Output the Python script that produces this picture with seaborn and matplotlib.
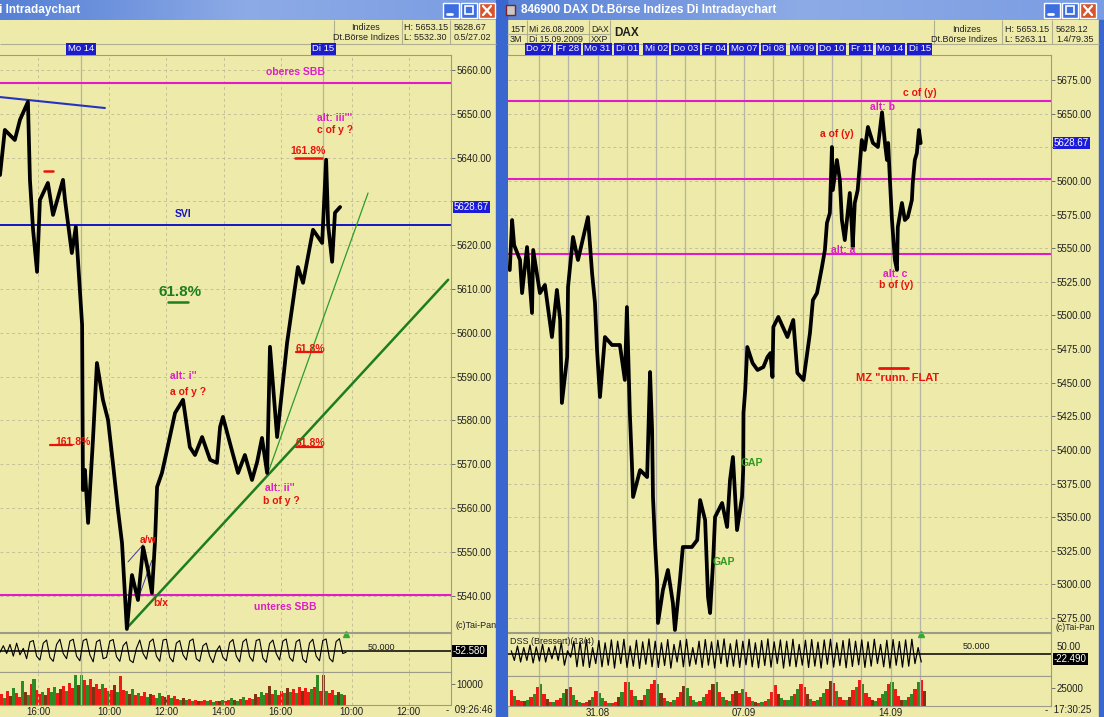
import numpy as np
import matplotlib
matplotlib.use("Agg")
import matplotlib.pyplot as plt
import seaborn as sns
from matplotlib.patches import Rectangle
from matplotlib.colors import LinearSegmentedColormap
from matplotlib.ticker import FuncFormatter

# ---------------- linkes Fenster: Intraday (Fr 11 / Mo 14 / Di 15), x = Handelsstunden ab Mo 9:00
left_t = [-2.84, -2.67, -2.32, -2.14, -1.86, -1.79, -1.68, -1.54, -1.44, -1.16, -0.98, -0.63, -0.56, -0.32, -0.18,
          0.04, 0.07, 0.14, 0.25, 0.42, 0.56, 0.77, 0.95, 1.12, 1.30, 1.44, 1.61, 1.79, 2.00, 2.18, 2.35, 2.49,
          2.60, 2.67, 2.84, 2.98, 3.30, 3.58, 3.82, 4.00, 4.25, 4.53, 4.77, 4.88, 4.98, 5.30, 5.51, 5.75, 6.00,
          6.18, 6.35, 6.53, 6.63, 6.88, 7.23, 7.61, 7.79, 8.14, 8.46, 8.60, 8.67, 8.81, 8.91, 9.09]
left_price = [5636.0, 5646.3, 5644.0, 5648.6, 5652.7, 5634.9, 5623.5, 5613.9, 5630.3, 5634.2, 5626.9, 5634.9,
              5630.3, 5618.2, 5624.2, 5601.8, 5564.1, 5568.7, 5556.6, 5575.5, 5593.1, 5584.7, 5580.1, 5570.3,
              5559.5, 5552.0, 5532.4, 5544.7, 5539.0, 5551.1, 5545.9, 5540.6, 5552.7, 5564.8, 5568.0, 5572.1,
              5581.7, 5584.7, 5573.9, 5572.1, 5576.2, 5571.0, 5570.3, 5578.5, 5580.8, 5573.0, 5568.0, 5572.1,
              5566.4, 5570.5, 5576.0, 5568.0, 5596.8, 5576.2, 5597.7, 5615.0, 5611.4, 5623.5, 5620.5, 5639.5,
              5624.6, 5616.2, 5627.4, 5628.7]
left_osc = [45, 70, 40, 75, 30, 80, 35, 60,
            20, 85, 90, 30, 15, 80, 92, 25,
            10, 75, 95, 40, 20, 88, 95, 30,
            12, 90, 96, 35, 8, 85, 93, 20,
            25, 88, 94, 28, 10, 70, 85, 15,
            5, 60, 92, 40, 18, 85, 96, 30,
            10, 92, 95, 25, 8, 80, 90, 35,
            15, 88, 96, 20, 10, 70, 80, 30,
            5, 50, 70, 25, 12, 82, 94, 30,
            8, 85, 96, 28, 10, 90, 95, 22,
            6, 78, 92, 40, 15, 88, 96, 25,
            10, 85, 94, 18, 5, 80, 95, 30,
            12, 90, 96, 22, 8, 86, 97, 40,
            45]
left_vol = [5200, 3100, 6800, 4200, 8300, 5600, 3900, 11200, 6100, 4700, 9800, 12600, 7200, 5300, 6400, 4800,
            7900, 6200, 8800, 5900, 7400, 9100, 6600, 10400, 8200, 14100, 9300,
            14300, 11800, 9600, 12400, 8700, 10200, 7600, 9900, 8100, 6800, 7200, 9400, 6100, 13900, 7300,
            6500, 5200, 7800, 4900, 5600, 4300, 6100, 3800, 5200, 4600, 3400, 5900, 4100, 3600, 4800, 3200, 4400, 3000,
            2600, 3300, 2200, 2900, 1900, 2500, 2100, 1700, 2400, 1800, 2300, 1500, 2000, 1700, 2600, 1900, 2200,
            3100, 2400, 1800, 2700, 3600, 2500, 3100, 2800,
            5100, 3800, 6400, 4600, 5800, 9200, 5300, 7100, 4900, 6600, 5800, 8200, 6200, 7400, 5600, 8800, 6700,
            7900, 6300, 7600, 8400, 14200, 6900,
            14500, 6800, 5600, 7200, 4800, 6300, 5400, 4900]
left_vol_col = "rgrbgrrgbgrgrrgbrggrbrgrrgbgrgrbrrg"
left_ticks = [-1.5, 1, 3, 5, 7, 9.5, 11.5]
left_ticklabels = ["16:00", "10:00", "12:00", "14:00", "16:00", "10:00", "12:00"]
left_daylines = [0, 8.5]
left_hourlines = [-1.5, 1, 3, 5, 7, 9.5, 11.5]
left_days = [(0, "Mo 14"), (8.5, "Di 15")]
left_sbb = [5657.0, 5540.2]
left_svi = 5624.6
left_blue_line = ([-2.84, 0.84], [5653.8, 5651.3])
left_trend_big = ([1.61, 12.88], [5532.6, 5612.1])
left_trend_small = ([6.56, 10.07], [5568.0, 5631.9])
left_zigzag = [([1.65, 2.18], [5547.7, 5551.6]), ([1.99, 2.49], [5539.0, 5548.1])]

# ---------------- rechtes Fenster: 15 Tage, x = Handelstage ab Mi 26.08
right_d = [0.0, 0.08, 0.15, 0.35, 0.42, 0.59, 0.76, 0.80, 1.03, 1.20, 1.44, 1.61, 1.72, 1.78, 1.96, 1.99, 2.16,
           2.33, 2.67, 2.81, 2.91, 2.98, 3.08, 3.25, 3.49, 3.76, 3.93, 4.00, 4.10, 4.17, 4.21, 4.45, 4.69, 4.79,
           4.86, 4.89, 4.96, 5.03, 5.06, 5.23, 5.40, 5.57, 5.64, 5.81, 5.91, 6.22, 6.40, 6.50, 6.67, 6.77, 6.84,
           6.94, 7.01, 7.25, 7.42, 7.52, 7.62, 7.76, 7.93, 7.97, 7.98, 8.04, 8.11, 8.29, 8.46, 8.66, 8.80, 8.90,
           8.97, 9.00, 9.17, 9.48, 9.68, 9.82, 10.03, 10.25, 10.35, 10.49, 10.66, 10.76, 10.83, 10.93, 11.00,
           11.03, 11.17, 11.27, 11.34, 11.44, 11.61, 11.68, 11.71, 11.78, 11.88, 12.02, 12.12, 12.23, 12.40,
           12.57, 12.71, 12.81, 12.88, 12.92, 12.98, 13.05, 13.15, 13.22, 13.25, 13.39, 13.49, 13.59, 13.73,
           13.76, 13.83, 13.90, 13.97, 14.03]
right_price = [5533.7, 5570.9, 5552.3, 5541.2, 5516.6, 5550.8, 5501.8, 5548.6, 5516.6, 5522.6, 5483.9, 5518.9,
               5496.6, 5434.9, 5469.1, 5521.1, 5558.3, 5541.2, 5573.1, 5531.5, 5509.2, 5474.3, 5439.3, 5483.9,
               5478.0, 5478.0, 5452.0, 5506.2, 5427.4, 5390.2, 5365.0, 5385.0, 5379.8, 5457.9, 5414.8, 5365.0,
               5330.8, 5303.3, 5271.3, 5295.8, 5310.7, 5286.2, 5266.1, 5303.3, 5327.8, 5327.8, 5333.0, 5362.7,
               5347.9, 5290.6, 5278.7, 5315.9, 5350.1, 5360.5, 5342.7, 5377.6, 5394.7, 5340.4, 5365.0, 5385.0,
               5427.4, 5444.5, 5476.5, 5464.6, 5459.4, 5461.6, 5469.1, 5472.0, 5454.2, 5491.4, 5498.8, 5483.9,
               5496.6, 5457.2, 5452.0, 5486.9, 5511.4, 5516.6, 5536.0, 5548.6, 5568.7, 5576.1, 5625.2, 5593.2,
               5615.5, 5600.7, 5570.9, 5556.0, 5591.0, 5565.7, 5550.8, 5583.6, 5593.2, 5630.4, 5623.0, 5640.1,
               5628.2, 5625.2, 5651.0, 5628.2, 5615.5, 5628.2, 5600.7, 5570.9, 5541.2, 5533.7, 5565.7, 5583.6,
               5570.9, 5573.1, 5585.8, 5598.4, 5615.5, 5620.7, 5637.8, 5628.1]
right_osc = [60, 30, 75, 25, 70, 30, 78, 22, 72, 28, 80, 25, 70, 35, 75, 30,
             85, 15, 60, 40, 90, 10, 88, 12, 95, 8, 70, 20, 92, 10, 85, 15,
             94, 6, 90, 20, 96, 8, 75, 12, 93, 5, 88, 18, 97, 10, 90, 8,
             85, 14, 95, 6, 80, 25, 92, 10, 96, 12, 70, 18, 90, 8, 95, 15,
             88, 6, 93, 20, 97, 10, 82, 12, 94, 8, 90, 16, 96, 10, 85, 7,
             92, 14, 97, 9, 88, 20, 94, 6, 90, 12, 96, 10, 80, 15, 93, 8,
             95, 12, 87, 6, 94, 18, 96, 9, 85, 14, 92, 7, 97, 11, 90, 16,
             94, 8, 88, 12, 96, 20, 80, 10, 93, 6, 95, 15, 89, 9, 94, 12,
             96, 20, 70, 25]
right_vol = [22000, 14000, 9000, 7000, 6500, 8000, 12000, 16000, 27000,
             30000, 16000, 10000, 6000, 5500, 9000, 11000, 18000, 24000,
             26000, 15000, 8000, 5000, 4500, 6000, 9000, 13000, 21000,
             18000, 11000, 7000, 4000, 3500, 5500, 12000, 20000, 33000,
             34000, 22000, 14000, 9000, 8000, 15000, 24000, 30000, 36000,
             31000, 18000, 11000, 7000, 6000, 8000, 13000, 19000, 28000,
             25000, 14000, 9000, 6000, 7000, 12000, 16000, 22000, 30000,
             33000, 19000, 12000, 8000, 7500, 16000, 21000, 18000, 24000,
             20000, 12000, 7000, 5000, 4000, 5000, 7000, 10000, 19000,
             29000, 17000, 11000, 8000, 9000, 14000, 17000, 23000, 31000,
             27000, 16000, 10000, 7000, 8000, 12000, 18000, 24000, 35000,
             32000, 21000, 13000, 9000, 8500, 13000, 22000, 27000, 36000,
             30000, 18000, 12000, 8000, 7000, 11000, 16000, 21000, 31000,
             34000, 24000, 14000, 9000, 8000, 12000, 17000, 23000, 33000,
             36000, 21000]
right_vol_col = "rgrrbgrgrgrbrgrrgbrgrgrrbgrgg"
right_days = ["Do 27", "Fr 28", "Mo 31", "Di 01", "Mi 02", "Do 03", "Fr 04", "Mo 07", "Di 08", "Mi 09",
              "Do 10", "Fr 11", "Mo 14", "Di 15"]
right_ticks = [3, 8, 13]
right_ticklabels = ["31.08", "07.09", "14.09"]
right_sbb = [5659.6, 5601.4, 5545.6]
right_flat_line = ([12.6, 13.59], [5460.9, 5460.9])

sns.set_theme(style="white")
plt.rcParams['font.family'] = ['Liberation Sans', 'DejaVu Sans']

W, H = 1104, 717
BG = "#EEEBAA"
GRID = "#C4C09A"
DAYLINE = "#B5B3A6"
SPINE = "#9C9A88"
MAG = "#E01CC8"
RED = "#E8140C"
GREEN = "#1E7D1E"
BLUE = "#1414C8"
VOLC = {"r": "#F01A14", "g": "#2E8A22", "b": "#7E3412"}

fig = plt.figure(figsize=(W / 100, H / 100), dpi=100, facecolor=BG)


def px_axes(x0, y0, x1, y1):
    ax = fig.add_axes([x0 / W, 1 - y1 / H, (x1 - x0) / W, (y1 - y0) / H])
    ax.set_facecolor(BG)
    for s in ax.spines.values():
        s.set_color(SPINE)
        s.set_linewidth(0.8)
    ax.set_xticks([])
    ax.set_yticks([])
    return ax


# ---------------- Fensterrahmen
chrome = fig.add_axes([0, 0, 1, 1])
chrome.axis("off")
title_cmap = LinearSegmentedColormap.from_list("xp", ["#5680D6", "#8DABE6", "#7A9CE2"])
grad = np.linspace(0, 1, 200)[None, :]
chrome.imshow(grad, extent=(0, 497, 20, 0), cmap=title_cmap, aspect="auto")
chrome.imshow(grad, extent=(500, 1104, 20, 0), cmap=title_cmap, aspect="auto")
chrome.add_patch(Rectangle((496, 0), 11, H, color="#3A66D0"))
chrome.add_patch(Rectangle((1099, 20), 5, H, color="#3A66D0"))
chrome.set_xlim(0, W)
chrome.set_ylim(H, 0)


def buttons(x0):
    for i in range(3):
        bx = x0 + i * 18
        fc = "#D9542C" if i == 2 else "#3D6FE0"
        chrome.add_patch(Rectangle((bx, 3), 16, 15, facecolor=fc, edgecolor="white", lw=1))
        if i == 0:
            chrome.plot([bx + 4, bx + 9], [14, 14], color="white", lw=2)
        elif i == 1:
            chrome.add_patch(Rectangle((bx + 4, 6), 8, 8, facecolor="none", edgecolor="white", lw=1.2))
        else:
            chrome.plot([bx + 4, bx + 12], [6, 15], color="white", lw=1.6)
            chrome.plot([bx + 4, bx + 12], [15, 6], color="white", lw=1.6)


buttons(443)
buttons(1044)
chrome.text(-1, 10, "i Intradaychart", color="white", fontsize=8.5, fontweight="bold", va="center")
chrome.add_patch(Rectangle((506, 5), 9, 10, facecolor="#C8C8C8", edgecolor="#802020", lw=1))
chrome.text(521, 10, "846900 DAX Dt.Börse Indizes Di Intradaychart", color="white", fontsize=8.5,
            fontweight="bold", va="center")

# Kopfzeilen
hd = dict(fontsize=6.5, color="#202020", va="center")
chrome.vlines([334, 402, 450], 20, 44, color="#B0AE90", lw=0.8)
chrome.hlines(44, 0, 496, color="#B0AE90", lw=0.8)
chrome.text(380, 27, "Indizes", ha="right", **hd)
chrome.text(399, 38, "Dt.Börse Indizes", ha="right", **hd)
chrome.text(404, 27, "H: 5653.15", **hd)
chrome.text(404, 38, "L: 5532.30", **hd)
chrome.text(454, 27, "5628.67", **hd)
chrome.text(454, 38, "0.5/27.02", **hd)

chrome.vlines([527, 589, 610, 934, 1002, 1052], 20, 44, color="#B0AE90", lw=0.8)
chrome.hlines(34, 507, 610, color="#B0AE90", lw=0.8)
chrome.hlines(44, 507, 1099, color="#B0AE90", lw=0.8)
chrome.text(510, 29, "15T", **hd)
chrome.text(510, 39, "3M", **hd)
chrome.text(529, 29, "Mi 26.08.2009", fontsize=6.2, color="#202020", va="center")
chrome.text(529, 39, "Di 15.09.2009", fontsize=6.2, color="#202020", va="center")
chrome.text(591, 29, "DAX", fontsize=6.2, color="#202020", va="center")
chrome.text(591, 39, "XXP", fontsize=6.2, color="#202020", va="center")
chrome.text(614, 33, "DAX", fontsize=8.5, fontweight="bold", color="#202020", va="center")
chrome.text(981, 29, "Indizes", ha="right", **hd)
chrome.text(997, 39, "Dt.Börse Indizes", ha="right", **hd)
chrome.text(1005, 29, "H: 5653.15", **hd)
chrome.text(1005, 39, "L: 5263.11", **hd)
chrome.text(1056, 29, "5628.12", **hd)
chrome.text(1056, 39, "1.4/79.35", **hd)

box_blue = dict(facecolor="#1C1CD8", edgecolor="none", pad=0.8)
box_black = dict(facecolor="black", edgecolor="none", pad=0.8)
chrome.text(454, 207, "5628.67", fontsize=7, color="white", va="center", bbox=box_blue)
chrome.text(1054, 143, "5628.67", fontsize=7, color="white", va="center", bbox=box_blue)
chrome.text(455, 626, "(c)Tai-Pan", fontsize=6.5, color="#202020", va="center")
chrome.text(1055, 628, "(c)Tai-Pan", fontsize=6.2, color="#202020", va="center")
chrome.text(453, 651, "-52.580", fontsize=7, color="white", va="center", bbox=box_black)
chrome.text(1054, 659, "-22.490", fontsize=7, color="white", va="center", bbox=box_black)
chrome.text(1057, 647, "50.00", fontsize=7, color="#202020", va="center")
chrome.text(446, 710, "-  09:26:46", fontsize=7, color="#202020", va="center")
chrome.text(1045, 710, "-  17:30:25", fontsize=7, color="#202020", va="center")


def price_axis(ax, ticks, hidden):
    ax.spines["left"].set_visible(False)
    ax.yaxis.tick_right()
    ax.set_yticks(ticks)
    ax.yaxis.set_major_formatter(FuncFormatter(lambda v, p: "" if abs(v - hidden) < 0.1 else f"{v:.2f}"))
    ax.tick_params(axis="y", right=True, length=3, width=0.7, color="#707070", labelsize=7, pad=1,
                   labelcolor="#202020")
    ax.grid(axis="y", ls=(0, (3, 3)), color=GRID, lw=0.7)


def day_box(ax, x, lbl):
    ax.text(x, 1.0104, lbl, transform=ax.get_xaxis_transform(), fontsize=6.8, color="white",
            ha="center", va="center", bbox=dict(facecolor="#1C1CC8", edgecolor="none", pad=1.0), clip_on=False)


# ---------------- linkes Chart
L_XLIM = (-2.84, 12.98)
axL = px_axes(0, 55, 451, 632)
axL.set_xlim(*L_XLIM)
axL.set_ylim(5531.7, 5663.4)
price_axis(axL, list(range(5540, 5661, 10)), 5630)
for x in left_daylines:
    axL.axvline(x, color=DAYLINE, lw=0.9)
for x in left_hourlines:
    axL.axvline(x, color=GRID, lw=0.7, ls=(0, (3, 3)))
for x, lbl in left_days:
    day_box(axL, x, lbl)

for y in left_sbb:
    axL.axhline(y, color=MAG, lw=1.5)
axL.axhline(left_svi, color=BLUE, lw=1.4)
axL.plot(*left_blue_line, color="#2434C0", lw=1.5)
axL.plot(*left_trend_big, color=GREEN, lw=1.8)
axL.plot(*left_trend_small, color="#2E9A2E", lw=0.9)
for seg in left_zigzag:
    axL.plot(*seg, color="#3A3AA0", lw=0.7)
sns.lineplot(x=left_t, y=left_price, ax=axL, color="black", lw=2.7, sort=False, estimator=None)
axL.set_xlabel("")
axL.set_ylabel("")

ann = dict(fontsize=7.5, fontweight="bold", ha="center", va="center")
axL.text(7.51, 5659.6, "oberes SBB", color=MAG, **ann)
axL.text(8.91, 5649.0, "alt: iii'''", color=MAG, **ann)
axL.text(8.91, 5646.3, "c of y ?", color=RED, **ann)
axL.text(7.96, 5641.6, "161.8%", color=RED, **ann)
axL.plot([7.51, 8.46], [5640.0, 5640.0], color=RED, lw=1.8)
axL.plot([-1.30, -0.98], [5636.9, 5636.9], color=RED, lw=1.8)
axL.text(3.58, 5627.2, "SVI", color=BLUE, **ann)
axL.text(3.47, 5609.3, "61.8%", color=GREEN, fontsize=11, fontweight="bold", ha="center", va="center")
axL.plot([3.05, 3.75], [5607.0, 5607.0], color=GREEN, lw=1.8)
axL.text(8.04, 5596.2, "61.8%", color=RED, **ann)
axL.plot([7.54, 8.46], [5595.6, 5595.6], color=RED, lw=1.6)
axL.text(3.58, 5590.1, "alt: i''", color=MAG, **ann)
axL.text(3.75, 5586.5, "a of y ?", color=RED, **ann)
axL.text(-0.28, 5575.0, "161.8%", color=RED, **ann)
axL.plot([-1.09, -0.30], [5574.4, 5574.4], color=RED, lw=1.6)
axL.text(8.04, 5574.8, "61.8%", color=RED, **ann)
axL.plot([7.54, 8.46], [5573.9, 5573.9], color=RED, lw=1.6)
axL.text(6.98, 5564.6, "alt: ii''", color=MAG, **ann)
axL.text(7.04, 5561.6, "b of y ?", color=RED, **ann)
axL.text(2.35, 5552.7, "a/w", color=RED, **ann)
axL.text(2.81, 5538.3, "b/x", color=RED, **ann)
axL.text(7.16, 5537.4, "unteres SBB", color=MAG, **ann)

# Oszillator links
axLo = px_axes(0, 633, 451, 672)
axLo.spines["left"].set_visible(False)
axLo.set_xlim(*L_XLIM)
axLo.set_ylim(-31, 119)
for x in left_daylines:
    axLo.axvline(x, color=DAYLINE, lw=0.9)
for x in left_hourlines:
    axLo.axvline(x, color=GRID, lw=0.7, ls=(0, (3, 3)))
axLo.axhline(50, color="black", lw=1.1)
sns.lineplot(x=np.linspace(left_t[0], 9.3, len(left_osc)), y=left_osc, ax=axLo, color="black", lw=0.8,
             sort=False, estimator=None)
axLo.plot([9.3], [117], marker="^", color="#36A836", ms=4, clip_on=False)
axLo.text(10.05, 62, "50.000", fontsize=6.5, color="#202020", va="center")
axLo.set_xlabel("")
axLo.set_ylabel("")

# Volumen links
axLv = px_axes(0, 672, 451, 705)
axLv.spines["left"].set_visible(False)
axLv.set_xlim(*L_XLIM)
axLv.set_ylim(0, 15714)
for x in left_daylines:
    axLv.axvline(x, color=DAYLINE, lw=0.9)
for x in left_hourlines:
    axLv.axvline(x, color=GRID, lw=0.7, ls=(0, (3, 3)))
lx = np.linspace(-2.8, 9.25, len(left_vol))
axLv.bar(lx, left_vol, width=0.106, color=[VOLC[left_vol_col[i % len(left_vol_col)]] for i in range(len(left_vol))],
         linewidth=0)
axLv.yaxis.tick_right()
axLv.set_yticks([10000], ["10000"])
axLv.set_xticks(left_ticks, left_ticklabels)
axLv.tick_params(axis="y", right=True, length=3, width=0.7, color="#707070", labelsize=7, pad=1,
                 labelcolor="#202020")
axLv.tick_params(axis="x", bottom=False, length=0, labelsize=7, pad=1.5, labelcolor="#202020")

# ---------------- rechtes Chart
R_XLIM = (-0.06, 18.48)
axR = px_axes(508, 55, 1051, 632)
axR.set_xlim(*R_XLIM)
axR.set_ylim(5264.6, 5693.6)
price_axis(axR, list(range(5275, 5676, 25)), 5625)
for d in range(1, 15):
    axR.axvline(d, color=DAYLINE, lw=0.9)
for d, lbl in enumerate(right_days, start=1):
    day_box(axR, d, lbl)
for y in right_sbb:
    axR.axhline(y, color=MAG, lw=1.5)
sns.lineplot(x=right_d, y=right_price, ax=axR, color="black", lw=2.7, sort=False, estimator=None)
axR.set_xlabel("")
axR.set_ylabel("")
axR.plot(*right_flat_line, color=RED, lw=2)
axR.text(14.0, 5665.3, "c of (y)", color=RED, **ann)
axR.text(12.74, 5654.6, "alt: b", color=MAG, **ann)
axR.text(11.17, 5634.9, "a of (y)", color=RED, **ann)
axR.text(11.38, 5548.6, "alt: a", color=MAG, **ann)
axR.text(13.15, 5530.8, "alt: c", color=MAG, **ann)
axR.text(13.2, 5522.6, "b of (y)", color=RED, **ann)
axR.text(13.25, 5453.4, 'MZ "runn. FLAT', color=RED, fontsize=8, fontweight="bold", ha="center", va="center")
axR.text(8.27, 5390.2, "GAP", color="#2E9A1E", **ann)
axR.text(7.31, 5316.6, "GAP", color="#2E9A1E", **ann)

axRo = px_axes(508, 633, 1051, 676)
axRo.spines["left"].set_visible(False)
axRo.set_xlim(*R_XLIM)
axRo.set_ylim(-18.75, 115.6)
for d in range(1, 15):
    axRo.axvline(d, color=DAYLINE, lw=0.9)
axRo.axhline(50, color="black", lw=1.1)
sns.lineplot(x=np.linspace(0.05, 14.05, len(right_osc)), y=right_osc, ax=axRo, color="black", lw=0.9,
             sort=False, estimator=None)
axRo.plot([14.05], [113], marker="^", color="#36A836", ms=4, clip_on=False)
axRo.text(0.02, 88, "DSS (Bressert)(13/4)", fontsize=6.5, color="#202020", va="center", zorder=5)
axRo.text(15.45, 74, "50.000", fontsize=6.5, color="#202020", va="center")
axRo.set_xlabel("")
axRo.set_ylabel("")

axRv = px_axes(508, 676, 1051, 706)
axRv.spines["left"].set_visible(False)
axRv.set_xlim(*R_XLIM)
axRv.set_ylim(0, 41667)
for d in range(1, 15):
    axRv.axvline(d, color=DAYLINE, lw=0.9)
rx = np.arange(len(right_vol)) / 9 + 0.055
axRv.bar(rx, right_vol, width=0.112,
         color=[VOLC[right_vol_col[i % len(right_vol_col)]] for i in range(len(right_vol))], linewidth=0)
axRv.yaxis.tick_right()
axRv.set_yticks([25000], ["25000"])
axRv.set_xticks(right_ticks, right_ticklabels)
axRv.tick_params(axis="y", right=True, length=3, width=0.7, color="#707070", labelsize=7, pad=1,
                 labelcolor="#202020")
axRv.tick_params(axis="x", bottom=False, length=0, labelsize=7, pad=1.5, labelcolor="#202020")

fig.savefig("out.png", dpi=100, facecolor=BG)
